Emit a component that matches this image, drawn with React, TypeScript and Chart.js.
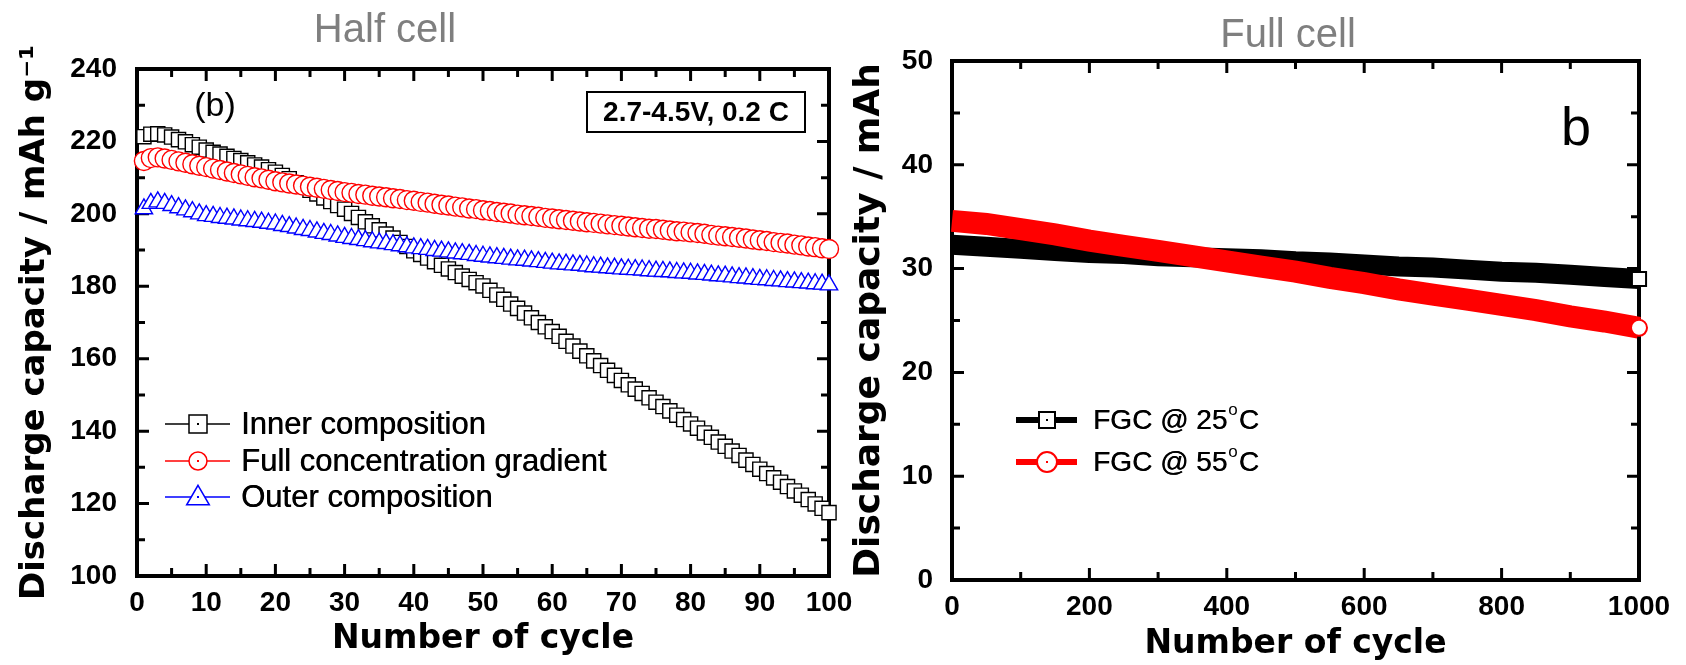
import React, { useEffect, useRef } from "react";
import { Chart, registerables } from "chart.js";

Chart.register(...registerables);
Chart.defaults.font.family = "'Liberation Sans', Arial, sans-serif";

// ---------------- Half cell (left) ----------------
const halfCycles = Array.from({ length: 100 }, (_, i) => i + 1);
const halfXTicks = [0, 10, 20, 30, 40, 50, 60, 70, 80, 90, 100];
const halfYTicks = [100, 120, 140, 160, 180, 200, 220, 240];

const innerComposition = [
  221.3, 222.0, 222.1, 221.8, 221.2, 220.5, 219.9, 219.1, 218.4, 217.6,
  217.0, 216.5, 215.9, 215.3, 214.7, 214.1, 213.5, 212.9, 212.2, 211.5,
  210.6, 209.7, 208.6, 207.6, 206.5, 205.5, 204.4, 203.4, 202.3, 201.3,
  200.1, 199.0, 197.8, 196.7, 195.6, 194.4, 193.3, 192.1, 191.0, 189.8,
  188.8, 187.8, 186.8, 185.8, 184.8, 183.8, 182.8, 181.9, 181.0, 180.1,
  178.9, 177.6, 176.4, 175.1, 173.9, 172.6, 171.3, 170.0, 168.8, 167.5,
  166.2, 164.8, 163.5, 162.1, 160.8, 159.4, 158.1, 156.8, 155.4, 154.0,
  152.8, 151.6, 150.4, 149.2, 148.0, 146.8, 145.6, 144.4, 143.2, 142.0,
  140.8, 139.5, 138.3, 137.0, 135.8, 134.5, 133.3, 132.0, 130.8, 129.5,
  128.3, 127.1, 125.9, 124.7, 123.5, 122.3, 121.1, 119.9, 118.7, 117.5,
];

const fullGradient = [
  214.6, 215.4, 215.6, 215.3, 214.9, 214.5, 214.1, 213.7, 213.3, 212.9,
  212.5, 212.1, 211.7, 211.3, 210.9, 210.5, 210.1, 209.8, 209.4, 209.0,
  208.7, 208.4, 208.1, 207.8, 207.5, 207.2, 206.9, 206.6, 206.3, 206.0,
  205.8, 205.5, 205.3, 205.0, 204.8, 204.6, 204.3, 204.1, 203.8, 203.6,
  203.3, 203.1, 202.8, 202.5, 202.3, 202.0, 201.8, 201.5, 201.3, 201.0,
  200.8, 200.5, 200.3, 200.1, 199.8, 199.6, 199.4, 199.2, 198.9, 198.7,
  198.5, 198.3, 198.1, 197.9, 197.7, 197.5, 197.3, 197.1, 196.9, 196.7,
  196.5, 196.3, 196.1, 195.9, 195.8, 195.6, 195.4, 195.2, 195.1, 194.9,
  194.7, 194.5, 194.2, 194.0, 193.8, 193.6, 193.4, 193.2, 192.9, 192.7,
  192.5, 192.2, 192.0, 191.8, 191.5, 191.3, 191.0, 190.8, 190.5, 190.3,
];

const outerComposition = [
  201.4, 202.9, 203.3, 202.9, 202.3, 201.7, 201.1, 200.6, 200.0, 199.5,
  199.3, 199.0, 198.8, 198.6, 198.3, 198.1, 197.9, 197.7, 197.4, 197.2,
  196.8, 196.5, 196.1, 195.7, 195.4, 195.0, 194.6, 194.3, 193.9, 193.5,
  193.2, 192.9, 192.6, 192.3, 192.0, 191.8, 191.5, 191.2, 190.9, 190.6,
  190.4, 190.2, 189.9, 189.7, 189.5, 189.2, 189.0, 188.8, 188.5, 188.3,
  188.1, 187.9, 187.7, 187.5, 187.3, 187.2, 187.0, 186.8, 186.6, 186.4,
  186.2, 186.1, 185.9, 185.8, 185.6, 185.4, 185.3, 185.1, 185.0, 184.8,
  184.7, 184.6, 184.5, 184.3, 184.2, 184.1, 184.0, 183.8, 183.7, 183.6,
  183.4, 183.3, 183.1, 182.9, 182.8, 182.6, 182.4, 182.3, 182.1, 181.9,
  181.8, 181.6, 181.5, 181.3, 181.2, 181.0, 180.9, 180.7, 180.6, 180.4,
];

// ---------------- Full cell (right) ----------------
const fullCycles = [
  0, 50, 100, 150, 200, 250, 300, 350, 400, 450, 500,
  550, 600, 650, 700, 750, 800, 850, 900, 950, 1000,
];
const fullXTicks = [0, 200, 400, 600, 800, 1000];
const fullYTicks = [0, 10, 20, 30, 40, 50];
const fgc25 = [
  32.3, 32.1, 31.9, 31.7, 31.5, 31.4, 31.2, 31.1, 31.0, 30.9, 30.7,
  30.6, 30.4, 30.2, 30.1, 29.9, 29.7, 29.6, 29.4, 29.2, 29.0,
];
const fgc55 = [
  34.6, 34.3, 33.8, 33.3, 32.7, 32.2, 31.7, 31.2, 30.7, 30.2, 29.7,
  29.1, 28.6, 28.0, 27.5, 27.0, 26.5, 26.0, 25.4, 24.9, 24.3,
];

const TITLE_FONT = "'DejaVu Sans', 'Liberation Sans', sans-serif";

function makeFramePlugin(xMinor: number, xMajor: number, yMinor: number, yMajor: number) {
  return {
    id: "frameTicks",
    beforeDatasetsDraw(chart: any) {
      const { ctx, chartArea: a, scales } = chart;
      const xs = scales.x;
      const ys = scales.y;
      const isMajor = (v: number, s: number) => Math.abs(v / s - Math.round(v / s)) < 1e-6;
      ctx.save();
      ctx.strokeStyle = "#000";
      ctx.lineWidth = 3;
      ctx.beginPath();
      for (let v = xs.min; v <= xs.max + 1e-9; v += xMinor) {
        const px = xs.getPixelForValue(v);
        const len = isMajor(v, xMajor) ? 12 : 8;
        ctx.moveTo(px, a.bottom);
        ctx.lineTo(px, a.bottom - len);
        ctx.moveTo(px, a.top);
        ctx.lineTo(px, a.top + len);
      }
      for (let v = ys.min; v <= ys.max + 1e-9; v += yMinor) {
        const py = ys.getPixelForValue(v);
        const len = isMajor(v, yMajor) ? 12 : 8;
        ctx.moveTo(a.left, py);
        ctx.lineTo(a.left + len, py);
        ctx.moveTo(a.right, py);
        ctx.lineTo(a.right - len, py);
      }
      ctx.stroke();
      ctx.lineWidth = 4;
      ctx.strokeRect(a.left, a.top, a.right - a.left, a.bottom - a.top);
      ctx.restore();
    },
  };
}

function drawMarker(ctx: CanvasRenderingContext2D, style: string, x: number, y: number, r: number, color: string, lw: number) {
  ctx.save();
  ctx.fillStyle = "#fff";
  ctx.strokeStyle = color;
  ctx.lineWidth = lw;
  ctx.beginPath();
  if (style === "rect") {
    ctx.rect(x - r, y - r, 2 * r, 2 * r);
  } else if (style === "circle") {
    ctx.arc(x, y, r, 0, Math.PI * 2);
  } else {
    const h = r * 1.5;
    ctx.moveTo(x, y - h * 0.6);
    ctx.lineTo(x + r * 0.87, y + h * 0.4);
    ctx.lineTo(x - r * 0.87, y + h * 0.4);
    ctx.closePath();
  }
  ctx.fill();
  ctx.stroke();
  ctx.fillStyle = color;
  ctx.fillRect(x - 1, y - 1, 2, 2);
  ctx.restore();
}

const leftTextPlugin = {
  id: "leftText",
  afterDraw(chart: any) {
    const ctx: CanvasRenderingContext2D = chart.ctx;
    ctx.save();
    ctx.textBaseline = "alphabetic";
    ctx.textAlign = "center";
    ctx.fillStyle = "#7f7f7f";
    ctx.font = "40px 'Liberation Sans'";
    ctx.fillText("Half cell", 385, 42);
    ctx.fillStyle = "#000";
    ctx.font = "34px 'Liberation Sans'";
    ctx.fillText("(b)", 215, 116);
    // condition box
    ctx.lineWidth = 2;
    ctx.strokeStyle = "#000";
    ctx.strokeRect(587, 92, 218, 40);
    ctx.font = "bold 28px 'Liberation Sans'";
    ctx.textBaseline = "middle";
    ctx.fillText("2.7-4.5V, 0.2 C", 696, 113);
    // legend
    const rows = [
      { label: "Inner composition", color: "#000000", style: "rect", r: 9, y: 424 },
      { label: "Full concentration gradient", color: "#ff0000", style: "circle", r: 9, y: 461 },
      { label: "Outer composition", color: "#0000ff", style: "triangle", r: 13, y: 497 },
    ];
    ctx.textAlign = "left";
    ctx.font = "31px 'Liberation Sans'";
    rows.forEach((row) => {
      ctx.strokeStyle = row.color;
      ctx.lineWidth = 1.5;
      ctx.beginPath();
      ctx.moveTo(165, row.y);
      ctx.lineTo(230, row.y);
      ctx.stroke();
      drawMarker(ctx, row.style, 198, row.y, row.r, row.color, 1.5);
      ctx.fillStyle = "#000";
      ctx.fillText(row.label, 241, row.y + 1);
      ctx.fillText(row.label, 241.5, row.y + 1);
    });
    ctx.restore();
  },
};

const rightTextPlugin = {
  id: "rightText",
  afterDraw(chart: any) {
    const ctx: CanvasRenderingContext2D = chart.ctx;
    ctx.save();
    ctx.textBaseline = "alphabetic";
    ctx.textAlign = "center";
    ctx.fillStyle = "#7f7f7f";
    ctx.font = "40px 'Liberation Sans'";
    ctx.fillText("Full cell", 448, 47);
    ctx.fillStyle = "#000";
    ctx.font = "54px 'Liberation Sans'";
    ctx.fillText("b", 736, 145);
    const rows = [
      { t: "25", color: "#000000", style: "rect", r: 8, y: 420 },
      { t: "55", color: "#ff0000", style: "circle", r: 10, y: 462 },
    ];
    ctx.textAlign = "left";
    ctx.textBaseline = "middle";
    rows.forEach((row) => {
      ctx.strokeStyle = row.color;
      ctx.lineWidth = 6;
      ctx.beginPath();
      ctx.moveTo(176, row.y);
      ctx.lineTo(237, row.y);
      ctx.stroke();
      drawMarker(ctx, row.style, 207, row.y, row.r, row.color, 2);
      ctx.fillStyle = "#000";
      ctx.font = "28px 'Liberation Sans'";
      const main = "FGC @ " + row.t;
      ctx.fillText(main, 253, row.y + 1);
      ctx.fillText(main, 253.5, row.y + 1);
      const w = ctx.measureText(main).width;
      ctx.font = "17px 'Liberation Sans'";
      ctx.fillText("o", 253 + w + 1, row.y - 10);
      const ow = ctx.measureText("o").width;
      ctx.font = "28px 'Liberation Sans'";
      ctx.fillText("C", 253 + w + ow + 2, row.y + 1);
      ctx.fillText("C", 253.5 + w + ow + 2, row.y + 1);
    });
    ctx.restore();
  },
};

function tickOpts(padding: number) {
  return {
    font: { size: 28, weight: "bold" },
    color: "#000",
    padding,
    maxRotation: 0,
    autoSkip: false,
    callback: (v: any) => String(v),
  };
}

function leftConfig(): any {
  return {
    type: "line",
    data: {
      datasets: [
        {
          label: "Inner composition",
          data: innerComposition.map((v, i) => ({ x: halfCycles[i], y: v })),
          borderColor: "#000",
          borderWidth: 1,
          pointStyle: "rect",
          pointRadius: 10,
          pointBorderWidth: 1.4,
          pointBorderColor: "#000",
          pointBackgroundColor: "#fff",
          order: 3,
          clip: false,
        },
        {
          label: "Full concentration gradient",
          data: fullGradient.map((v, i) => ({ x: halfCycles[i], y: v })),
          borderColor: "#ff0000",
          borderWidth: 1,
          pointStyle: "circle",
          pointRadius: 9.5,
          pointBorderWidth: 1.4,
          pointBorderColor: "#ff0000",
          pointBackgroundColor: "#fff",
          order: 2,
          clip: false,
        },
        {
          label: "Outer composition",
          data: outerComposition.map((v, i) => ({ x: halfCycles[i], y: v })),
          borderColor: "#0000ff",
          borderWidth: 1,
          pointStyle: "triangle",
          pointRadius: 10,
          pointBorderWidth: 1.4,
          pointBorderColor: "#0000ff",
          pointBackgroundColor: "#fff",
          order: 1,
          clip: false,
        },
      ],
    },
    options: {
      responsive: false,
      animation: false,
      layout: { padding: { top: 69, right: 41, bottom: 0, left: 0 } },
      plugins: { legend: { display: false }, tooltip: { enabled: false } },
      scales: {
        x: {
          type: "linear",
          min: 0,
          max: 100,
          afterBuildTicks: (s: any) => {
            s.ticks = halfXTicks.map((v) => ({ value: v }));
          },
          afterFit: (s: any) => {
            s.height = 89;
          },
          ticks: tickOpts(2),
          grid: { display: false },
          border: { display: false },
          title: {
            display: true,
            text: "Number of cycle",
            color: "#000",
            font: { family: TITLE_FONT, weight: "bold", size: 33 },
            padding: { top: 0, bottom: 6 },
          },
        },
        y: {
          type: "linear",
          min: 100,
          max: 240,
          afterBuildTicks: (s: any) => {
            s.ticks = halfYTicks.map((v) => ({ value: v }));
          },
          afterFit: (s: any) => {
            s.width = 137;
          },
          ticks: tickOpts(12),
          grid: { display: false },
          border: { display: false },
          title: {
            display: true,
            text: "Discharge capacity / mAh g\u207B\u00B9",
            color: "#000",
            font: { family: TITLE_FONT, weight: "bold", size: 34 },
            padding: { top: 15, bottom: 0 },
          },
        },
      },
    },
    plugins: [makeFramePlugin(5, 10, 10, 20), leftTextPlugin],
  };
}

function rightConfig(): any {
  const last = fullCycles.length - 1;
  return {
    type: "line",
    data: {
      datasets: [
        {
          label: "FGC @ 25oC",
          data: fgc25.map((v, i) => ({ x: fullCycles[i], y: v })),
          borderColor: "#000",
          borderWidth: 20,
          pointStyle: "rect",
          pointRadius: (c: any) => (c.dataIndex === last ? 10 : 0),
          pointBorderWidth: 2,
          pointBorderColor: "#000",
          pointBackgroundColor: "#fff",
          order: 2,
          clip: false,
        },
        {
          label: "FGC @ 55oC",
          data: fgc55.map((v, i) => ({ x: fullCycles[i], y: v })),
          borderColor: "#ff0000",
          borderWidth: 22,
          pointStyle: "circle",
          pointRadius: (c: any) => (c.dataIndex === last ? 8 : 0),
          pointBorderWidth: 2,
          pointBorderColor: "#ff0000",
          pointBackgroundColor: "#fff",
          order: 1,
          clip: false,
        },
      ],
    },
    options: {
      responsive: false,
      animation: false,
      layout: { padding: { top: 61, right: 47, bottom: 0, left: 0 } },
      plugins: { legend: { display: false }, tooltip: { enabled: false } },
      scales: {
        x: {
          type: "linear",
          min: 0,
          max: 1000,
          afterBuildTicks: (s: any) => {
            s.ticks = fullXTicks.map((v) => ({ value: v }));
          },
          afterFit: (s: any) => {
            s.height = 85;
          },
          ticks: tickOpts(2),
          grid: { display: false },
          border: { display: false },
          title: {
            display: true,
            text: "Number of cycle",
            color: "#000",
            font: { family: TITLE_FONT, weight: "bold", size: 33 },
            padding: { top: 0, bottom: 1 },
          },
        },
        y: {
          type: "linear",
          min: 0,
          max: 50,
          afterBuildTicks: (s: any) => {
            s.ticks = fullYTicks.map((v) => ({ value: v }));
          },
          afterFit: (s: any) => {
            s.width = 112;
          },
          ticks: tickOpts(11),
          grid: { display: false },
          border: { display: false },
          title: {
            display: true,
            text: "Discharge capacity / mAh",
            color: "#000",
            font: { family: TITLE_FONT, weight: "bold", size: 36 },
            padding: { top: 8, bottom: 0 },
          },
        },
      },
    },
    plugins: [makeFramePlugin(100, 200, 5, 10), rightTextPlugin],
  };
}

export default function App() {
  const leftRef = useRef<HTMLCanvasElement>(null);
  const rightRef = useRef<HTMLCanvasElement>(null);
  useEffect(() => {
    const c1 = new Chart(leftRef.current as HTMLCanvasElement, leftConfig());
    const c2 = new Chart(rightRef.current as HTMLCanvasElement, rightConfig());
    return () => {
      c1.destroy();
      c2.destroy();
    };
  }, []);
  return (
    <div
      style={{
        position: "absolute",
        left: 0,
        top: 0,
        width: 1686,
        height: 665,
        background: "#fff",
        overflow: "hidden",
      }}
    >
      <canvas ref={leftRef} width={870} height={665} style={{ position: "absolute", left: 0, top: 0 }} />
      <canvas ref={rightRef} width={846} height={665} style={{ position: "absolute", left: 840, top: 0 }} />
    </div>
  );
}
